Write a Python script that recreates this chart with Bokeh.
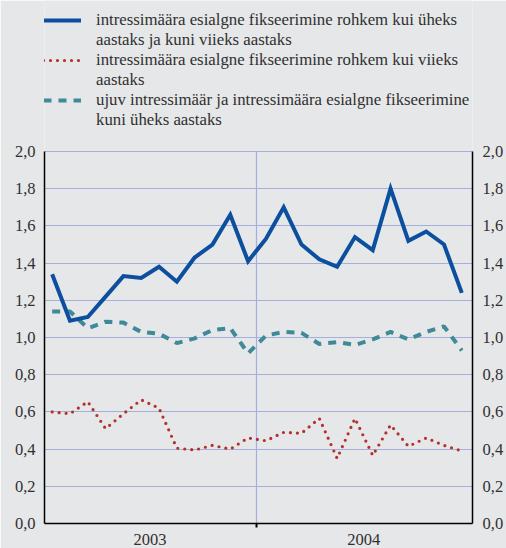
from bokeh.plotting import figure
from bokeh.models import (LinearAxis, FixedTicker, CustomJSTickFormatter,
                          Legend, LegendItem, Range1d)
from bokeh.embed import file_html
from bokeh.resources import INLINE

# ---- data -------------------------------------------------------------
month_index = list(range(24))          # Jan 2003 ... Dec 2004
years = ["2003", "2004"]
year_centers = [5.5, 17.5]
year_boundary = [11.5]
y_ticks = [0.0, 0.2, 0.4, 0.6, 0.8, 1.0, 1.2, 1.4, 1.6, 1.8, 2.0]

label_1to5 = ["intressimäära esialgne fikseerimine rohkem kui üheks",
              "aastaks ja kuni viieks aastaks"]
label_over5 = ["intressimäära esialgne fikseerimine rohkem kui viieks",
               "aastaks"]
label_float = ["ujuv intressimäär ja intressimäära esialgne fikseerimine",
               "kuni üheks aastaks"]

rate_1to5 = [1.34, 1.09, 1.11, 1.22, 1.33, 1.32, 1.38, 1.30, 1.43, 1.50, 1.66, 1.41,
             1.53, 1.70, 1.50, 1.42, 1.38, 1.54, 1.47, 1.80, 1.52, 1.57, 1.50, 1.24]
rate_over5 = [0.60, 0.59, 0.655, 0.51, 0.59, 0.665, 0.62, 0.405, 0.395, 0.42, 0.40, 0.46,
              0.445, 0.49, 0.485, 0.565, 0.35, 0.565, 0.366, 0.53, 0.415, 0.46, 0.42, 0.39]
rate_float = [1.14, 1.14, 1.05, 1.085, 1.08, 1.03, 1.02, 0.97, 0.995, 1.04, 1.05, 0.915,
              1.01, 1.03, 1.025, 0.965, 0.975, 0.96, 0.99, 1.03, 0.99, 1.03, 1.06, 0.93]

# ---- style ------------------------------------------------------------
BG = "#e6e7e9"
FONT = "'Liberation Serif', 'Times New Roman', serif"
TXT = "#303030"
FS = "16.5px"
LFS = "16.8px"
GRID = "#a6aedb"
BLUE = "#0b4f9e"
RED = "#b3312b"
TEAL = "#3f8a98"

# the frame reaches to the top of the canvas so the legend can sit above
# the 0..2 data area
Y_TOP = 2.0 * 523 / 372

p = figure(width=506, height=548, output_backend="svg", toolbar_location=None,
           title=None,
           x_range=Range1d(-0.43, 23.6), y_range=Range1d(0, Y_TOP),
           background_fill_color=BG, border_fill_color=BG,
           min_border_left=44, min_border_right=33,
           min_border_top=0, min_border_bottom=25)
p.outline_line_color = None

fmt = CustomJSTickFormatter(code="return tick.toFixed(1).replace('.', ',');")
yl = p.yaxis[0]
yr = LinearAxis()
p.add_layout(yr, "right")
for ax, so in [(yl, 9), (yr, 10)]:
    ax.ticker = FixedTicker(ticks=y_ticks)
    ax.formatter = fmt
    ax.bounds = (y_ticks[0], y_ticks[-1])
    ax.major_tick_out = 0
    ax.major_tick_in = 0
    ax.minor_tick_out = 0
    ax.minor_tick_in = 0
    ax.major_label_standoff = so
    ax.axis_line_color = "black"
    ax.axis_line_width = 1.5
    ax.major_label_text_font = FONT
    ax.major_label_text_font_size = FS
    ax.major_label_text_color = TXT

xa = p.xaxis[0]
xa.ticker = FixedTicker(ticks=year_centers, minor_ticks=year_boundary)
xa.major_label_overrides = {c: y for c, y in zip(year_centers, years)}
xa.major_tick_out = 0
xa.major_tick_in = 0
xa.minor_tick_out = 4
xa.minor_tick_in = 0
xa.minor_tick_line_color = "black"
xa.minor_tick_line_width = 2
xa.axis_line_color = "black"
xa.axis_line_width = 1.5
xa.major_label_standoff = 6
xa.major_label_text_font = FONT
xa.major_label_text_font_size = FS
xa.major_label_text_color = TXT

p.ygrid.ticker = FixedTicker(ticks=y_ticks)
p.ygrid.grid_line_color = GRID
p.ygrid.grid_line_width = 1.2

# vertical year separator
p.xgrid.ticker = FixedTicker(ticks=year_boundary)
p.xgrid.grid_line_color = GRID
p.xgrid.grid_line_width = 1.2
try:
    p.xgrid.cross_bounds = (y_ticks[0], y_ticks[-1])
except Exception:
    p.xgrid.visible = False
    p.segment(x0=year_boundary, y0=[y_ticks[0]], x1=year_boundary, y1=[y_ticks[-1]],
              line_color=GRID, line_width=1.2, level="underlay")

# ---- series -----------------------------------------------------------
r_teal = p.line(x=month_index, y=rate_float, line_color=TEAL, line_width=4,
                line_dash="8 7")
r_red = p.line(x=month_index, y=rate_over5, line_color=RED, line_width=3.2,
               line_dash="0 7", line_cap="round", line_join="round")
r_blue = p.line(x=month_index, y=rate_1to5, line_color=BLUE, line_width=4,
                line_join="miter")

items = []
for lab, r in [(label_1to5, r_blue), (label_over5, r_red), (label_float, r_teal)]:
    items.append(LegendItem(label=lab[0], renderers=[r]))
    items.append(LegendItem(label=lab[1], renderers=[]))

legend = Legend(items=items, location=(-1, 393), orientation="vertical",
                level="overlay",
                border_line_color=None, background_fill_alpha=0,
                padding=0, margin=0, spacing=0,
                glyph_width=38, glyph_height=20, label_height=20,
                label_standoff=15,
                label_text_font=FONT, label_text_font_size=LFS,
                label_text_color=TXT)
p.add_layout(legend)

open("out.html", "w").write(file_html(p, INLINE))
